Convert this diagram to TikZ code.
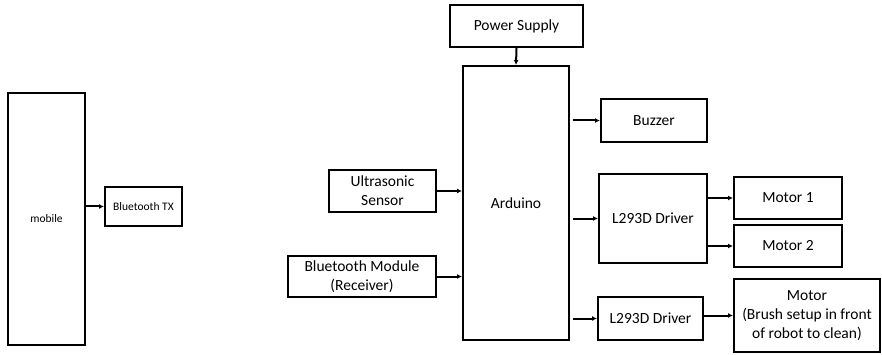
\documentclass[tikz,border=0pt]{standalone}
\usepackage{fontspec}
\setmainfont{Carlito}
\usetikzlibrary{arrows.meta}
\begin{document}
\begin{tikzpicture}[x=1pt,y=-1pt,
  box/.style={draw=black,line width=2pt,fill=white,inner sep=0pt,align=center,
    font=\fontsize{15.5}{19}\selectfont},
  smallbox/.style={box,font=\fontsize{11.5}{14}\selectfont},
  conn/.style={line width=2pt,-{Latex[length=5pt,width=5pt]}}]
\useasboundingbox (0,0) rectangle (882,355);
% left part
\node[smallbox,minimum width=77pt,minimum height=252pt] (mob) at (46.5,219) {mobile};
\node[smallbox,minimum width=77pt,minimum height=39pt] (btx) at (143.5,206.5) {Bluetooth TX};
% main part
\node[box,minimum width=133pt,minimum height=42pt] (ps) at (516.5,26) {Power Supply};
\node[box,minimum width=106pt,minimum height=274pt] (ard) at (516,203) {Arduino};
\node[box,minimum width=107pt,minimum height=42pt] (us) at (382.5,191) {Ultrasonic\\Sensor};
\node[box,minimum width=148pt,minimum height=41pt] (bm) at (362,276.5) {Bluetooth Module\\(Receiver)};
\node[box,minimum width=106pt,minimum height=43pt] (buz) at (654,120.5) {Buzzer};
\node[box,minimum width=108pt,minimum height=89pt] (d1) at (653,218.5) {L293D Driver};
\node[box,minimum width=108pt,minimum height=42pt] (m1) at (788,198) {Motor 1};
\node[box,minimum width=108pt,minimum height=42pt] (m2) at (788,246) {Motor 2};
\node[box,minimum width=105pt,minimum height=43pt] (d2) at (650.5,318.5) {L293D Driver};
\node[box,minimum width=146pt,minimum height=73pt] (mb) at (807,315.5) {Motor\\(Brush setup in front\\of robot to clean)};
% connectors
\draw[conn] (mob.east |- btx.west) -- (btx.west);
\draw[conn] (ps.south) -- (ard.north);
\draw[conn] (us.east) -- (ard.west |- us.east);
\draw[conn] (bm.east) -- (ard.west |- bm.east);
\draw[conn] ([xshift=3pt]ard.east |- buz.west) -- (buz.west);
\draw[conn] ([xshift=3pt]ard.east |- d1.west) -- (d1.west);
\draw[conn] ([xshift=3pt]ard.east |- d2.west) -- (d2.west);
\draw[conn] (d1.east |- m1.west) -- (m1.west);
\draw[conn] (d1.east |- m2.west) -- (m2.west);
\draw[conn] (d2.east |- mb.west) -- (mb.west);
\end{tikzpicture}
\end{document}
